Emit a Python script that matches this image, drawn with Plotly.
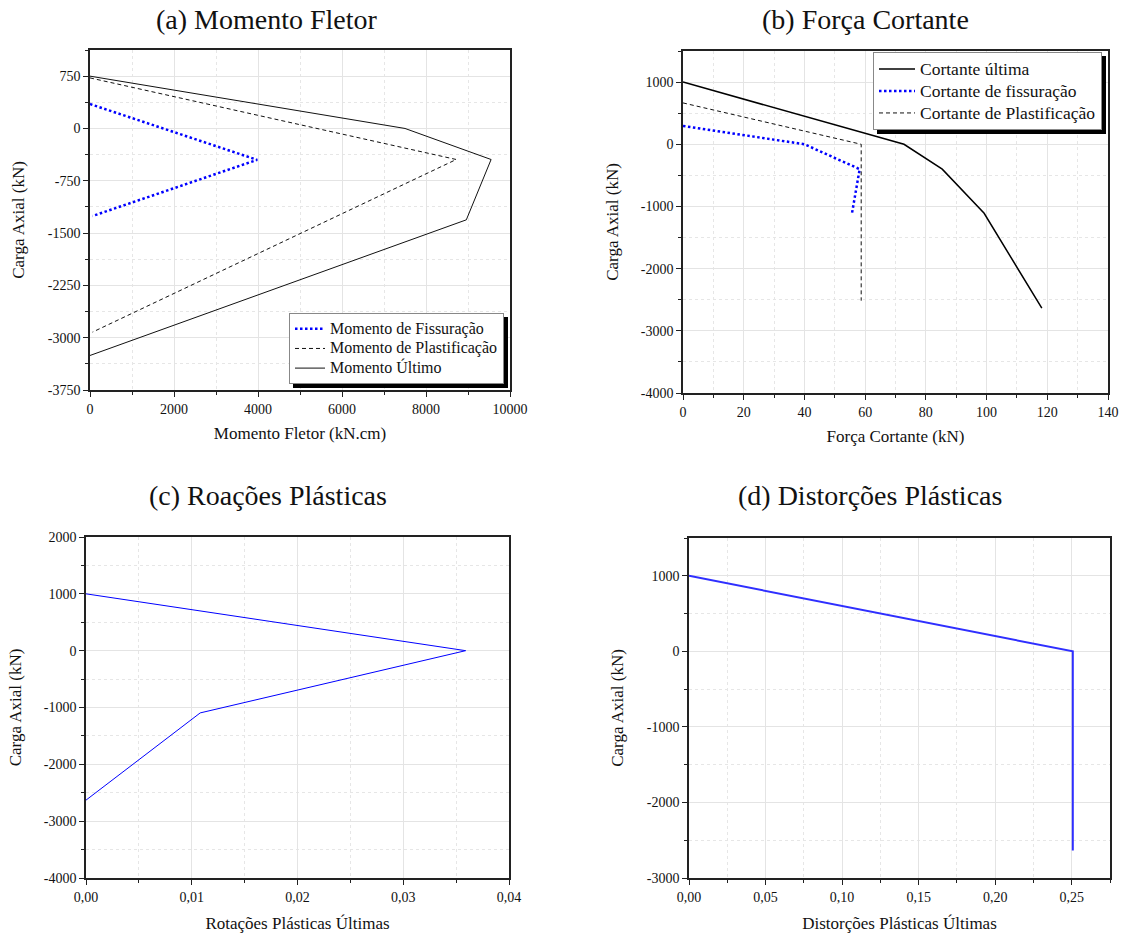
import plotly.graph_objects as go

# ---------------- data ----------------
# (a) Momento Fletor  (x: kN.cm, y: kN)
mf_fiss_x = [0, 3980, 60]
mf_fiss_y = [350, -450, -1255]
mf_plast_x = [0, 8720, 60]
mf_plast_y = [725, -445, -2920]
mf_ult_x = [0, 7500, 9550, 8960, 0]
mf_ult_y = [750, 0, -445, -1310, -3255]

# (b) Força Cortante  (x: kN, y: kN)
v_ult_x = [0, 72.8, 85.4, 99.2, 118.2]
v_ult_y = [1000, 0, -400, -1110, -2636]
v_fiss_x = [0, 40.0, 58.2, 55.7]
v_fiss_y = [295, 0, -400, -1100]
v_plast_x = [0, 58.7, 58.7]
v_plast_y = [665, 0, -2515]

# (c) Rotações plásticas últimas
rot_x = [0.0, 0.0359, 0.0108, 0.0]
rot_y = [1000, 0, -1095, -2630]

# (d) Distorções plásticas últimas
dist_x = [0.0, 0.2507, 0.2507]
dist_y = [1000, 0, -2635]

# tick labels
a_xticks = [0, 2000, 4000, 6000, 8000, 10000]
a_xtext = ["0", "2000", "4000", "6000", "8000", "10000"]
a_yticks = [750, 0, -750, -1500, -2250, -3000, -3750]
a_ytext = ["750", "0", "-750", "-1500", "-2250", "-3000", "-3750"]
b_xticks = [0, 20, 40, 60, 80, 100, 120, 140]
b_xtext = ["0", "20", "40", "60", "80", "100", "120", "140"]
b_yticks = [1000, 0, -1000, -2000, -3000, -4000]
b_ytext = ["1000", "0", "-1000", "-2000", "-3000", "-4000"]
c_xticks = [0, 0.01, 0.02, 0.03, 0.04]
c_xtext = ["0,00", "0,01", "0,02", "0,03", "0,04"]
c_yticks = [2000, 1000, 0, -1000, -2000, -3000, -4000]
c_ytext = ["2000", "1000", "0", "-1000", "-2000", "-3000", "-4000"]
d_xticks = [0, 0.05, 0.10, 0.15, 0.20, 0.25]
d_xtext = ["0,00", "0,05", "0,10", "0,15", "0,20", "0,25"]
d_yticks = [1000, 0, -1000, -2000, -3000]
d_ytext = ["1000", "0", "-1000", "-2000", "-3000"]

# ---------------- layout helpers ----------------
W, H = 1127, 937
FONT = "Liberation Serif, Times New Roman, Times, serif"


def px_x(p):
    return p / W


def px_y(p):
    return 1 - p / H


def axis(domain, rng, tickvals, ticktext, minor_dtick, title, anchor, standoff):
    return dict(
        domain=domain,
        range=rng,
        anchor=anchor,
        automargin=False,
        tickmode="array",
        tickvals=tickvals,
        ticktext=ticktext,
        ticks="outside",
        ticklen=5,
        tickwidth=1.2,
        tickcolor="#222",
        showline=True,
        linecolor="#222",
        linewidth=1.5,
        mirror=True,
        showgrid=True,
        gridcolor="#e4e4e4",
        gridwidth=1,
        zeroline=False,
        minor=dict(
            tick0=0,
            dtick=minor_dtick,
            ticks="outside",
            ticklen=3,
            tickwidth=1,
            tickcolor="#222",
            showgrid=True,
            gridcolor="#e6e6e6",
            griddash="dot",
        ),
        tickfont=dict(family=FONT, size=14, color="#111"),
        title=dict(text=title, font=dict(family=FONT, size=17, color="#111"),
                   standoff=standoff),
        fixedrange=True,
    )


def entry(label, size):
    # legend label drawn at a larger size than the row pitch font
    return f'<span style="font-size:{size}px">{label}</span>'


fig = go.Figure()

BLUE = "#0000ff"
DOT = "2.5px,2.5px"
DASH = "4px,3px"

# (a)
fig.add_trace(go.Scatter(x=mf_fiss_x, y=mf_fiss_y, mode="lines",
                         name=entry("Momento de Fissuração", 16),
                         line=dict(color=BLUE, width=2.5, dash=DOT), xaxis="x", yaxis="y",
                         legend="legend"))
fig.add_trace(go.Scatter(x=mf_plast_x, y=mf_plast_y, mode="lines",
                         name=entry("Momento de Plastificação", 16),
                         line=dict(color="#111", width=1, dash=DASH), xaxis="x", yaxis="y",
                         legend="legend"))
fig.add_trace(go.Scatter(x=mf_ult_x, y=mf_ult_y, mode="lines",
                         name=entry("Momento Último", 16),
                         line=dict(color="#111", width=1), xaxis="x", yaxis="y",
                         legend="legend"))
# (b)
fig.add_trace(go.Scatter(x=v_ult_x, y=v_ult_y, mode="lines",
                         name=entry("Cortante última", 17.5),
                         line=dict(color="#000", width=1.5), xaxis="x2", yaxis="y2",
                         legend="legend2"))
fig.add_trace(go.Scatter(x=v_fiss_x, y=v_fiss_y, mode="lines",
                         name=entry("Cortante de fissuração", 17.5),
                         line=dict(color=BLUE, width=2.5, dash=DOT), xaxis="x2", yaxis="y2",
                         legend="legend2"))
fig.add_trace(go.Scatter(x=v_plast_x, y=v_plast_y, mode="lines",
                         name=entry("Cortante de Plastificação", 17.5),
                         line=dict(color="#111", width=1, dash=DASH), xaxis="x2", yaxis="y2",
                         legend="legend2"))
# (c)
fig.add_trace(go.Scatter(x=rot_x, y=rot_y, mode="lines", showlegend=False,
                         line=dict(color=BLUE, width=1), xaxis="x3", yaxis="y3"))
# (d)
fig.add_trace(go.Scatter(x=dist_x, y=dist_y, mode="lines", showlegend=False,
                         line=dict(color="#2f2fff", width=2), xaxis="x4", yaxis="y4"))

# plot-area boxes (pixels): left, right, top, bottom
A = (90, 510, 50, 390)
B = (683, 1108, 51, 393)
C = (86, 509, 537, 878)
D = (689, 1110, 538, 878)


def dom_x(b):
    return [px_x(b[0]), px_x(b[1])]


def dom_y(b):
    return [px_y(b[3]), px_y(b[2])]


legend_common = dict(
    bgcolor="white",
    bordercolor="#888",
    borderwidth=1,
    xanchor="left",
    yanchor="top",
    tracegroupgap=0,
    itemclick=False,
    itemdoubleclick=False,
)

fig.update_layout(
    width=W,
    height=H,
    margin=dict(l=0, r=0, t=0, b=0, autoexpand=False),
    paper_bgcolor="white",
    plot_bgcolor="white",
    font=dict(family=FONT, color="#111"),
    xaxis=axis(dom_x(A), [0, 10000], a_xticks, a_xtext, 1000, "Momento Fletor (kN.cm)", "y", 12),
    yaxis=axis(dom_y(A), [-3750, 1125], a_yticks, a_ytext, 375, "Carga Axial (kN)", "x", 19),
    xaxis2=axis(dom_x(B), [0, 140], b_xticks, b_xtext, 10, "Força Cortante (kN)", "y2", 12),
    yaxis2=axis(dom_y(B), [-4000, 1500], b_yticks, b_ytext, 500, "Carga Axial (kN)", "x2", 18),
    xaxis3=axis(dom_x(C), [0, 0.04], c_xticks, c_xtext, 0.005, "Rotações Plásticas Últimas", "y3", 14),
    yaxis3=axis(dom_y(C), [-4000, 2000], c_yticks, c_ytext, 500, "Carga Axial (kN)", "x3", 18),
    xaxis4=axis(dom_x(D), [0, 0.275], d_xticks, d_xtext, 0.025, "Distorções Plásticas Últimas", "y4", 14),
    yaxis4=axis(dom_y(D), [-3000, 1500], d_yticks, d_ytext, 500, "Carga Axial (kN)", "x4", 19),
    legend=dict(x=px_x(289), y=px_y(313), itemwidth=30,
                font=dict(family=FONT, size=12.8, color="#111"), **legend_common),
    legend2=dict(x=px_x(873), y=px_y(52), itemwidth=36,
                 font=dict(family=FONT, size=14.6, color="#111"), **legend_common),
    showlegend=True,
)

# panel titles
titles = [
    ("(a) Momento Fletor", 267, 19),
    ("(b) Força Cortante", 865, 19),
    ("(c) Roações Plásticas", 268, 495),
    ("(d) Distorções Plásticas", 870, 495),
]
for text, cx, cy in titles:
    fig.add_annotation(text=text, x=px_x(cx), y=px_y(cy), xref="paper", yref="paper",
                       showarrow=False, xanchor="center", yanchor="middle",
                       font=dict(family=FONT, size=28, color="#111"))

# drop shadows behind the two legends
for l, r, t, b in [(293, 508, 317, 388), (877, 1106, 56, 134)]:
    fig.add_shape(type="rect", xref="paper", yref="paper",
                  x0=px_x(l), x1=px_x(r), y0=px_y(b), y1=px_y(t),
                  fillcolor="black", line=dict(width=0), layer="above")

fig.write_html("out.html")
